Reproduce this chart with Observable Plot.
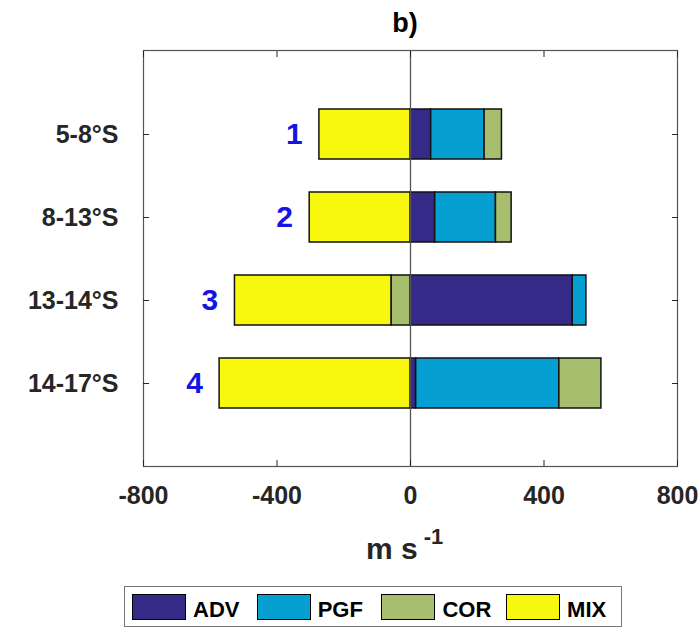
<!DOCTYPE html>
<html><head><meta charset="utf-8">
<script src="https://cdn.jsdelivr.net/npm/d3@7"></script>
<script src="https://cdn.jsdelivr.net/npm/@observablehq/plot@0.6"></script>
<style>
body{margin:0;background:#fff;font-family:"Liberation Sans",Arial,Helvetica,sans-serif;}
#wrap{position:relative;width:699px;height:629px;overflow:hidden;background:#fff}
#chart{position:absolute;left:0;top:0}
.title{position:absolute;left:355px;width:100px;top:10px;text-align:center;font-size:27px;line-height:27px;font-weight:bold;color:#000}
.xlabel{position:absolute;left:366px;top:526px;font-size:30px;line-height:30px;font-weight:bold;color:#262626;white-space:nowrap}
.xlabel sup{font-size:22px;position:relative;top:-4px;margin-left:6px}
.legend{position:absolute;left:124px;top:586px;width:498px;height:41px;border:1px solid #777;box-sizing:border-box;background:#fff}
.sw{position:absolute;width:54px;height:26px;border:1px solid #000;box-sizing:border-box}
.lt{position:absolute;font-size:22px;line-height:22px;font-weight:bold;color:#000}
</style>
</head><body>
<div id="wrap">
  <div class="title">b)</div>
  <div id="chart"></div>
  <div class="xlabel">m s<sup>-1</sup></div>
  <div class="legend" id="legend"></div>
</div>
<script>
const categories = ["5-8°S", "8-13°S", "13-14°S", "14-17°S"];
const rowLabels = ["1", "2", "3", "4"];
const terms = ["ADV", "PGF", "COR", "MIX"];
const ADV = [62, 74, 486, 17];
const PGF = [160, 182, 41, 429];
const COR = [52, 47, -57, 126];
const MIX = [-273, -302, -469, -572];
const colors = ["#352a87", "#069fd1", "#a6be6d", "#f8f80e"];
const xTicks = [-800, -400, 0, 400, 800];

const series = [ADV, PGF, COR, MIX];
const data = [];
categories.forEach((c, i) => terms.forEach((t, j) => data.push({cat: c, term: t, value: series[j][i]})));
const negTotals = categories.map((c, i) => ({
  cat: c, label: rowLabels[i],
  x: series.reduce((s, a) => s + Math.min(0, a[i]), 0)
}));

const axisColor = "#262626";
const chart = Plot.plot({
  width: 699, height: 629,
  marginTop: 50, marginLeft: 143, marginRight: 22, marginBottom: 163,
  style: {fontFamily: '"Liberation Sans", Arial, sans-serif', color: axisColor, background: "transparent"},
  x: {domain: [-800, 800], ticks: xTicks, label: null},
  y: {domain: categories, paddingInner: 0.4, paddingOuter: 0.7, label: null},
  color: {domain: terms, range: colors},
  marks: [
    Plot.barX(data, Plot.stackX({x: "value", y: "cat", fill: "term", stroke: "#111", strokeWidth: 1.5, order: terms})),
    Plot.ruleX([0], {stroke: "#555", strokeWidth: 1.3}),
    Plot.frame({stroke: "#555", strokeWidth: 1.2}),
    Plot.text(negTotals, {x: "x", y: "cat", text: "label", dx: -25, fill: "#1414e6", fontSize: 30, fontWeight: "bold"}),
    Plot.axisX({anchor: "bottom", ticks: xTicks, tickSize: -6, tickPadding: 26, fontSize: 25, fontWeight: "bold", label: null, tickFormat: d => String(d)}),
    Plot.axisX({anchor: "top", ticks: xTicks, tickSize: -6, label: null, tickFormat: () => ""}),
    Plot.axisY({anchor: "left", tickSize: -6, tickPadding: 31, fontSize: 25, fontWeight: "bold", label: null}),
    Plot.axisY({anchor: "right", tickSize: -6, label: null, tickFormat: () => ""})
  ]
});
document.getElementById("chart").appendChild(chart);

const legend = document.getElementById("legend");
terms.forEach((t, i) => {
  const sw = document.createElement("div");
  sw.className = "sw";
  sw.style.left = (7 + i * 124.7) + "px";
  sw.style.top = "7px";
  sw.style.background = colors[i];
  legend.appendChild(sw);
  const lt = document.createElement("div");
  lt.className = "lt";
  lt.textContent = t;
  lt.style.left = (68 + i * 124.7) + "px";
  lt.style.top = "12px";
  legend.appendChild(lt);
});
</script>
</body></html>
